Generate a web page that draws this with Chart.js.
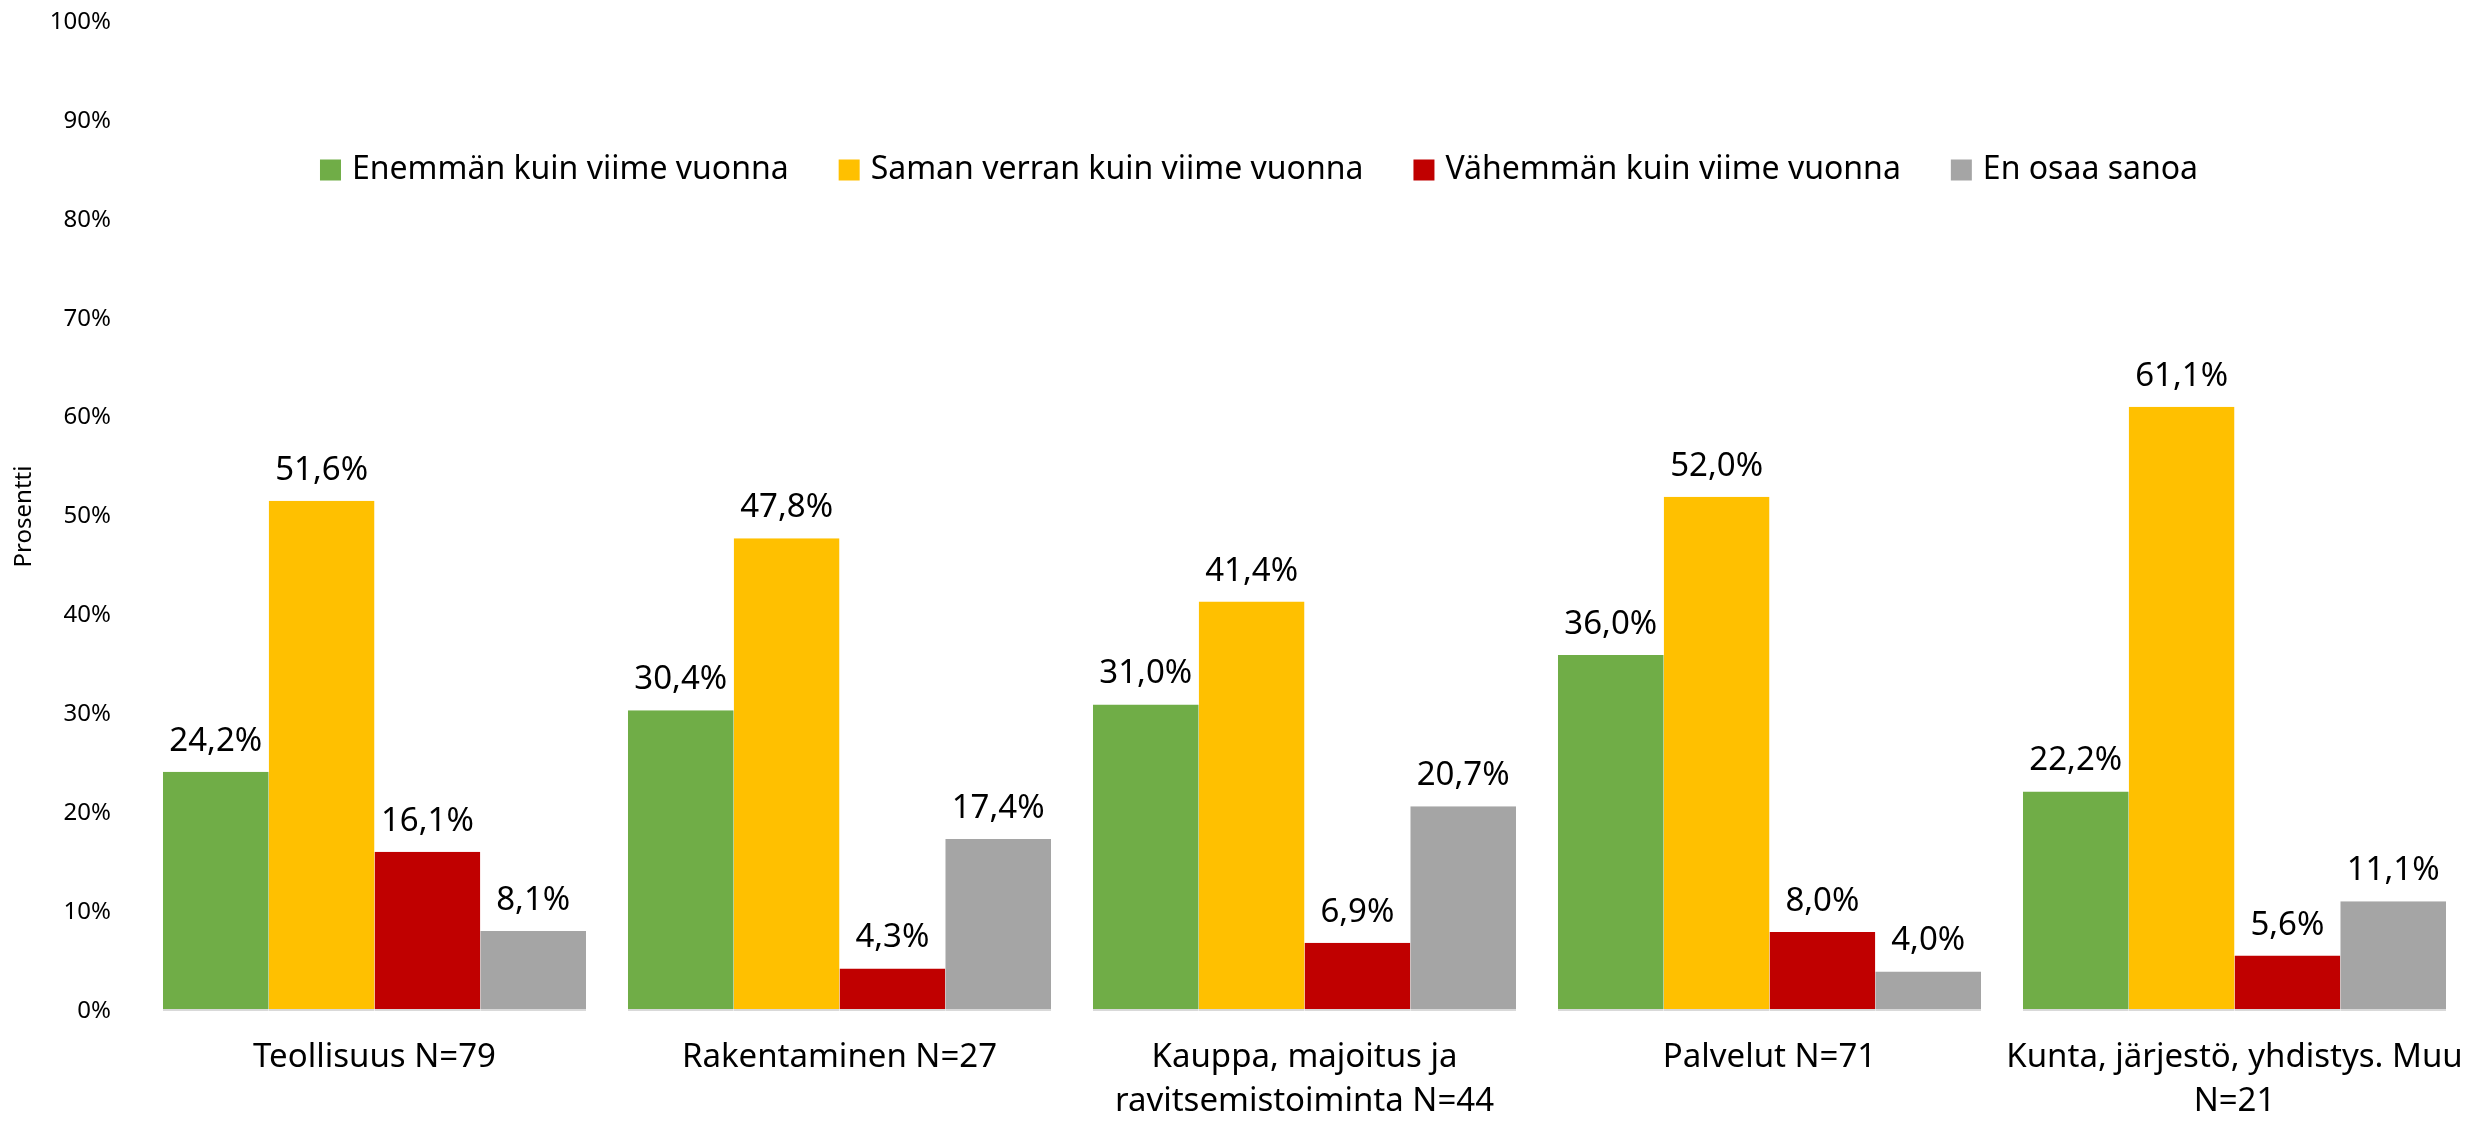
<!DOCTYPE html>
<html>
<head>
<meta charset="utf-8">
<script src="https://cdn.jsdelivr.net/npm/chart.js@4"></script>
<style>
  html, body { margin: 0; padding: 0; background: #fff; }
  #wrap { width: 2476px; height: 1121px; position: relative; }
</style>
</head>
<body>
<div id="wrap"><canvas id="myChart" width="2476" height="1121"></canvas></div>
<script>
// kategoriat ja sarjat
const categories = [
  "Teollisuus N=79",
  "Rakentaminen N=27",
  ["Kauppa, majoitus ja", "ravitsemistoiminta N=44"],
  "Palvelut N=71",
  ["Kunta, järjestö, yhdistys. Muu", "N=21"]
];
const seriesNames = [
  "Enemmän kuin viime vuonna",
  "Saman verran kuin viime vuonna",
  "Vähemmän kuin viime vuonna",
  "En osaa sanoa"
];
const enemman = [24.2, 30.4, 31.0, 36.0, 22.2];
const saman = [51.6, 47.8, 41.4, 52.0, 61.1];
const vahemman = [16.1, 4.3, 6.9, 8.0, 5.6];
const eiOsaa = [8.1, 17.4, 20.7, 4.0, 11.1];
const colors = ["#70AD47", "#FFC000", "#C00000", "#A5A5A5"];

const FONT = "'Noto Sans', sans-serif";

// arvot pylväiden päälle
const valueLabels = {
  id: "valueLabels",
  afterDatasetsDraw(chart) {
    const ctx = chart.ctx;
    ctx.save();
    ctx.font = "33px " + FONT;
    ctx.fillStyle = "#000";
    ctx.textAlign = "center";
    ctx.textBaseline = "alphabetic";
    chart.data.datasets.forEach((ds, i) => {
      chart.getDatasetMeta(i).data.forEach((bar, j) => {
        const txt = ds.data[j].toFixed(1).replace(".", ",") + "%";
        ctx.fillText(txt, bar.x, bar.y - 21);
      });
    });
    ctx.restore();
  }
};

// selite kuvaajan sisällä
const innerLegend = {
  id: "innerLegend",
  afterDraw(chart) {
    const ctx = chart.ctx;
    ctx.save();
    ctx.font = "32px " + FONT;
    ctx.textBaseline = "middle";
    const box = 21, gap = 11, itemGap = 50;
    const widths = chart.data.datasets.map(ds => box + gap + ctx.measureText(ds.label).width);
    const total = widths.reduce((a, b) => a + b, 0) + itemGap * (widths.length - 1);
    let x = 1259 - total / 2;
    const y = 170;
    chart.data.datasets.forEach((ds, i) => {
      ctx.fillStyle = ds.backgroundColor;
      ctx.fillRect(x, y - box / 2, box, box);
      ctx.fillStyle = "#000";
      ctx.fillText(ds.label, x + box + gap, y);
      x += widths[i] + itemGap;
    });
    ctx.restore();
  }
};

const ctx = document.getElementById("myChart").getContext("2d");
new Chart(ctx, {
  type: "bar",
  data: {
    labels: categories,
    datasets: [enemman, saman, vahemman, eiOsaa].map((d, i) => ({
      label: seriesNames[i],
      data: d,
      backgroundColor: colors[i],
      borderColor: "#D9D9D9",
      borderWidth: { top: 0, left: 0, right: 0, bottom: 2 },
      borderSkipped: false
    }))
  },
  options: {
    responsive: false,
    animation: false,
    layout: { padding: { top: 22, right: 9, left: 0, bottom: 0 } },
    categoryPercentage: 0.91,
    barPercentage: 1.0,
    plugins: {
      legend: { display: false },
      tooltip: { enabled: false }
    },
    scales: {
      x: {
        grid: { display: false, drawTicks: false },
        border: { display: false },
        ticks: {
          color: "#000",
          font: { family: FONT, size: 33, lineHeight: 1.35 },
          padding: 24,
          maxRotation: 0,
          autoSkip: false
        },
        afterFit(scale) {
          scale.height = 110;
          scale.paddingLeft = 0;
          scale.paddingRight = 0;
        }
      },
      y: {
        min: 0,
        max: 100,
        grid: { display: false, drawTicks: false },
        border: { display: false },
        ticks: {
          stepSize: 10,
          color: "#000",
          font: { family: FONT, size: 24 },
          padding: 31,
          callback: v => v + "%"
        },
        title: {
          display: true,
          text: "Prosentti",
          color: "#000",
          font: { family: FONT, size: 24 },
          padding: { top: 10, bottom: 0 }
        },
        afterFit(scale) {
          scale.width = 142;
          scale.paddingTop = 0;
          scale.paddingBottom = 0;
        }
      }
    }
  },
  plugins: [valueLabels, innerLegend]
});
</script>
</body>
</html>
